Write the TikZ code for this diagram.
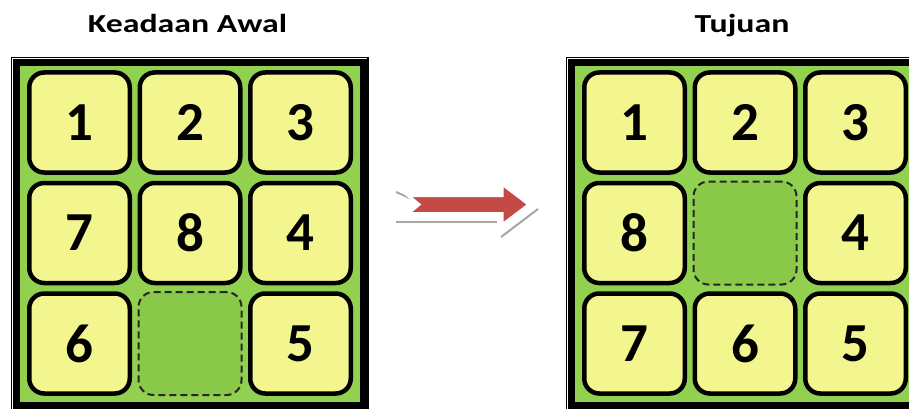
\documentclass[tikz,border=0pt]{standalone}
\usepackage{fontspec}
\setmainfont{Carlito}
\usepackage{graphicx}
\usetikzlibrary{positioning}
\definecolor{boardgreen}{RGB}{146,208,80}
\definecolor{holegreen}{RGB}{138,200,74}
\definecolor{tileyellow}{RGB}{243,246,142}
\definecolor{arrowred}{RGB}{196,74,70}

\begin{document}
\begin{tikzpicture}[
    x=1pt, y=-1pt,
    node distance=6pt and 5.5pt,
    tile/.style={rectangle, rounded corners=15pt, draw=black, line width=4.5pt, fill=tileyellow,
        minimum width=100.5pt, minimum height=100pt, inner sep=0pt, font=\fontsize{55}{60}\selectfont\bfseries},
    hole/.style={rectangle, rounded corners=15pt, draw=black!85, dash pattern=on 7pt off 4pt, line width=2pt,
        fill=holegreen, minimum width=103pt, minimum height=103pt},
    title/.style={font=\fontsize{26}{30}\selectfont\bfseries, anchor=base, inner sep=0pt},
    outerframe/.style={draw=black, line width=1.5pt},
    innerframe/.style={draw=black, line width=7pt, fill=boardgreen},
    shade/.style={draw=black!35, line width=2pt}
]
    \useasboundingbox (0,0) rectangle (909,409);
    \clip (0,0) rectangle (909,409);

    % Titles
    \node[title] (awal) at (187.5,33) {\scalebox{1.3}[1]{Keadaan Awal}};
    \node[title] (tujuan) at (742,33) {\scalebox{1.3}[1]{Tujuan}};

    % Board frames
    \foreach \bx in {0,555} {
        \draw[outerframe] (11.5+\bx,57.5) rectangle (368+\bx,430);
        \draw[innerframe] (16.5+\bx,62.5) rectangle (363.5+\bx,405.5);
    }

    % Initial state
    \node[tile] (a1) at (79.5,122.5) {1};
    \node[tile, right=of a1] (a2) {2};
    \node[tile, right=of a2] (a3) {3};
    \node[tile, below=of a1] (a4) {7};
    \node[tile, right=of a4] (a5) {8};
    \node[tile, right=of a5] (a6) {4};
    \node[tile, below=of a4] (a7) {6};
    \node[hole] (a8) at (a2 |- a7) {};
    \node[tile] (a9) at (a3 |- a7) {5};

    % Goal state
    \node[tile] (g1) at (634.5,122.5) {1};
    \node[tile, right=of g1] (g2) {2};
    \node[tile, right=of g2] (g3) {3};
    \node[tile, below=of g1] (g4) {8};
    \node[hole] (g5) at (g2 |- g4) {};
    \node[tile] (g6) at (g3 |- g4) {4};
    \node[tile, below=of g4] (g7) {7};
    \node[tile, right=of g7] (g8) {6};
    \node[tile, right=of g8] (g9) {5};

    % Arrow between boards
    \draw[shade] (396,192) -- (412,199);
    \draw[shade] (396,222) -- (497,222);
    \draw[shade] (501,237) -- (538,209);
    \draw[white, line width=3pt, fill=arrowred, line join=miter]
        (408,195.5) -- (502,195.5) -- (502,184) -- (529,204.5) -- (502,225) -- (502,213.5)
        -- (408,213.5) -- (419,204.5) -- cycle;
\end{tikzpicture}
\end{document}
